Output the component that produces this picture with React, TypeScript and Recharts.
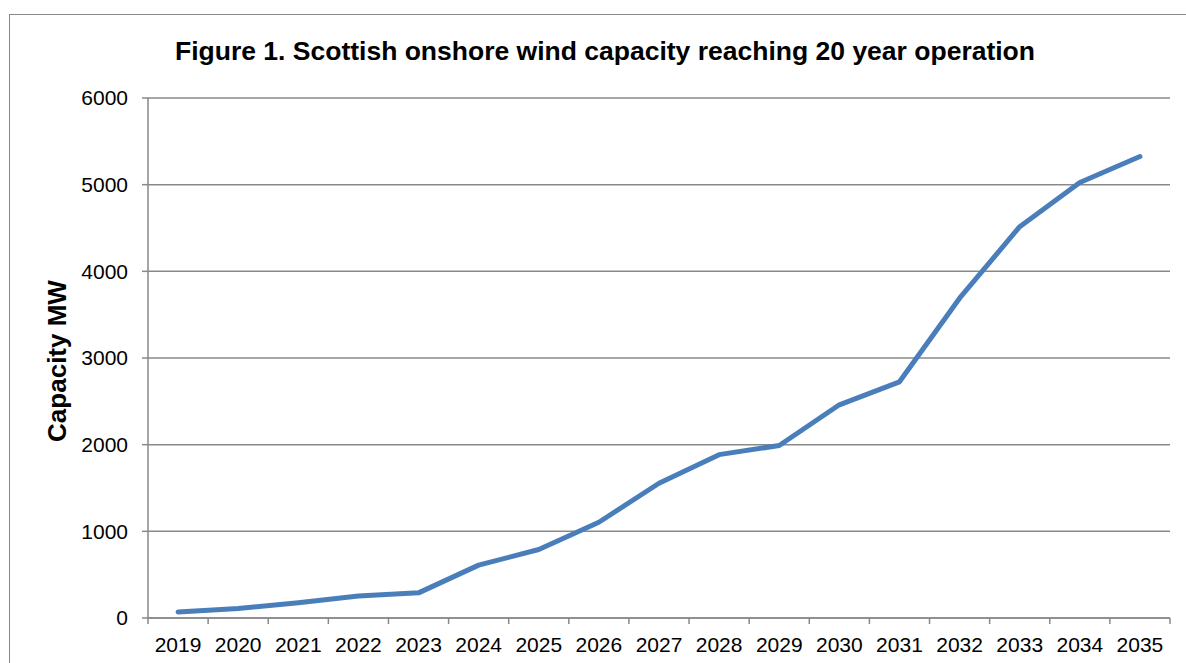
import React from 'react';
import { LineChart, Line, XAxis, YAxis, CartesianGrid } from 'recharts';

const years = ['2019', '2020', '2021', '2022', '2023', '2024', '2025', '2026', '2027',
  '2028', '2029', '2030', '2031', '2032', '2033', '2034', '2035'];
const capacityMW = [70, 110, 175, 255, 290, 610, 790, 1105, 1555, 1885, 1990, 2460, 2725,
  3690, 4515, 5025, 5325];
const yTicks = [0, 1000, 2000, 3000, 4000, 5000, 6000];

const data = years.map((year, i) => ({ year, capacity: capacityMW[i] }));

const W = 1186;
const H = 663;
const MARGIN = { top: 98, right: 16, bottom: 0, left: 78 };
const Y_AXIS_W = 70;
const PLOT_W = W - MARGIN.left - MARGIN.right - Y_AXIS_W;
const STEP = PLOT_W / years.length;
const FONT = '"Liberation Sans", Arial, sans-serif';
const GREY = '#898989';

function YearTick(props: any) {
  const { x, y, payload, index } = props;
  const left = x - STEP / 2;
  return (
    <g>
      <line x1={left} y1={y} x2={left} y2={y + 6} stroke={GREY} strokeWidth={1.5} />
      {index === years.length - 1 && (
        <line x1={x + STEP / 2} y1={y} x2={x + STEP / 2} y2={y + 6} stroke={GREY} strokeWidth={1.5} />
      )}
      <text x={x} y={y + 34} textAnchor="middle" fontSize={21} fontFamily={FONT} fill="#000">
        {payload.value}
      </text>
    </g>
  );
}

export default function App() {
  return (
    <div style={{ position: 'fixed', left: 0, top: 0, width: W, height: H, background: '#fff', overflow: 'hidden' }}>
      <div style={{
        position: 'absolute', left: 9, top: 14, width: W - 9, height: H,
        borderLeft: `1.5px solid ${GREY}`, borderTop: `1.5px solid ${GREY}`,
      }} />
      <div style={{ position: 'absolute', left: 0, top: 0 }}>
        <LineChart width={W} height={H} data={data} margin={MARGIN}>
          <CartesianGrid vertical={false} stroke={GREY} strokeWidth={1.5} />
          <XAxis dataKey="year" interval={0} height={45} tickLine={false} tickSize={0} tickMargin={0}
            padding={{ left: STEP / 2, right: STEP / 2 }}
            axisLine={{ stroke: GREY, strokeWidth: 1.5 }} tick={<YearTick />} />
          <YAxis width={Y_AXIS_W} domain={[0, 6000]} ticks={yTicks} interval={0} tickSize={6} tickMargin={14}
            axisLine={{ stroke: GREY, strokeWidth: 1.5 }} tickLine={{ stroke: GREY, strokeWidth: 1.5 }}
            tick={{ fill: '#000', fontSize: 21, fontFamily: FONT }} />
          <Line type="linear" dataKey="capacity" stroke="#4a7ebb" strokeWidth={5}
            strokeLinecap="round" strokeLinejoin="round" dot={false} isAnimationActive={false} />
        </LineChart>
      </div>
      <svg width={W} height={H} style={{ position: 'absolute', left: 0, top: 0, pointerEvents: 'none' }}>
        <text x={605} y={60} textAnchor="middle" fontSize={26.5} fontWeight="bold" fontFamily={FONT} fill="#000">
          Figure 1. Scottish onshore wind capacity reaching 20 year operation
        </text>
        <text transform="translate(66, 361) rotate(-90)" textAnchor="middle" fontSize={26} fontWeight="bold"
          fontFamily={FONT} fill="#000">
          Capacity MW
        </text>
      </svg>
    </div>
  );
}
